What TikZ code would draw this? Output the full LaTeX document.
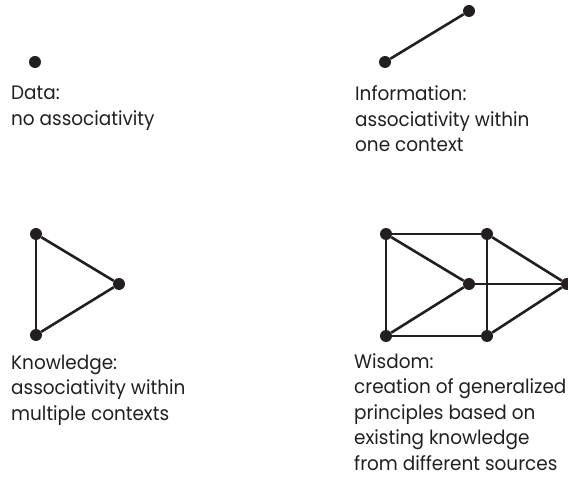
\documentclass[tikz,border=0pt]{standalone}
\usepackage{fontspec}
\setmainfont{Poppins}[FakeStretch=0.945]
\usetikzlibrary{positioning}
\definecolor{inkblack}{RGB}{35,31,32}

\begin{document}
\begin{tikzpicture}[x=1pt,y=-1pt]
\tikzset{
  dot/.style={circle,fill=inkblack,minimum size=12pt,inner sep=0pt},
  link/.style={draw=inkblack,line width=2.6pt},
  caption/.style={anchor=base west,align=left,inner sep=0pt,text=inkblack,
    font=\fontsize{19.5pt}{25.5pt}\selectfont}
}
\clip (0,0) rectangle (568,481);
% data
\node[dot] (n_d0) at (35,62) {};
\node[caption] (t_data) at (11,125.5) {Data:\\no associativity};
% information
\node[dot] (n_i0) at (385,62) {};
\node[dot] (n_i1) at (469,11) {};
\draw[link] (n_i0) -- (n_i1);
\node[caption] (t_info) at (355,152) {Information:\\associativity within\\one context};
% knowledge
\node[dot] (n_k0) at (36,234) {};
\node[dot] (n_k1) at (119,284) {};
\node[dot] (n_k2) at (36,335) {};
\draw[link] (n_k0) -- (n_k1);
\draw[link] (n_k1) -- (n_k2);
\draw[link] (n_k2) -- (n_k0);
\node[caption] (t_know) at (11,420) {Knowledge:\\associativity within\\multiple contexts};
% wisdom
\node[dot] (n_w0) at (386,234) {};
\node[dot] (n_w1) at (487,234) {};
\node[dot] (n_w2) at (469,284) {};
\node[dot] (n_w3) at (567,284) {};
\node[dot] (n_w4) at (386,336) {};
\node[dot] (n_w5) at (487,336) {};
\draw[link] (n_w0) -- (n_w1);
\draw[link] (n_w0) -- (n_w2);
\draw[link] (n_w0) -- (n_w4);
\draw[link] (n_w4) -- (n_w2);
\draw[link] (n_w4) -- (n_w5);
\draw[link] (n_w1) -- (n_w5);
\draw[link] (n_w1) -- (n_w3);
\draw[link] (n_w2) -- (n_w3);
\draw[link] (n_w5) -- (n_w3);
\node[caption] (t_wis) at (354,470) {Wisdom:\\creation of generalized\\principles based on\\existing knowledge\\from different sources};
\end{tikzpicture}
\end{document}
